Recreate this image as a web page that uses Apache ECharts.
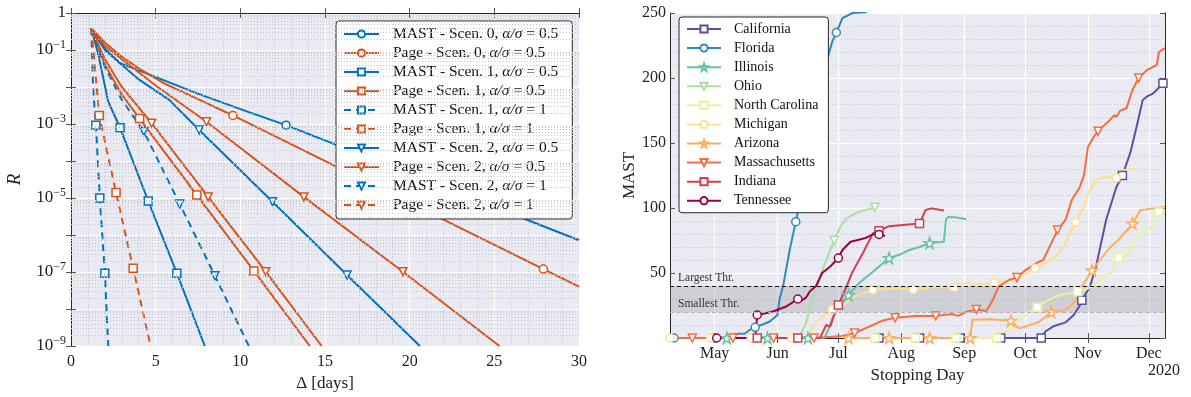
<!DOCTYPE html>
<html>
<head>
<meta charset="utf-8">
<script src="https://cdn.jsdelivr.net/npm/echarts@6/dist/echarts.min.js"></script>
<style>
html, body { margin: 0; padding: 0; background: #fff; }
#chart { width: 1191px; height: 397px; }
</style>
</head>
<body>
<div id="chart"></div>
<script>
// ---------- left panel : R versus Delta (log scale) ----------
var leftNames = [
    'MAST - Scen. 0, α/σ = 0.5', 'Page - Scen. 0, α/σ = 0.5',
    'MAST - Scen. 1, α/σ = 0.5', 'Page - Scen. 1, α/σ = 0.5',
    'MAST - Scen. 1, α/σ = 1', 'Page - Scen. 1, α/σ = 1',
    'MAST - Scen. 2, α/σ = 0.5', 'Page - Scen. 2, α/σ = 0.5',
    'MAST - Scen. 2, α/σ = 1', 'Page - Scen. 2, α/σ = 1'
];
var mast0 = [[1.2, 0.38], [2, 0.11], [2.9, 0.044], [4.6, 0.022], [7.6, 0.0063], [10.5, 0.0021], [30, 7.2e-7]];
var mast0Marks = [[12.7, 9.3e-4]];
var page0 = [[1.2, 0.38], [2, 0.16], [2.9, 0.071], [4, 0.032], [5.5, 0.0126], [7.6, 0.0045], [30, 4.0e-8]];
var page0Marks = [[9.56, 1.7e-3], [27.9, 1.2e-7]];
var mast1a = [[1.2, 0.38], [1.6, 0.08], [2.2, 0.004], [7.9, 1e-9]];
var mast1aMarks = [[2.9, 7.9e-4], [4.56, 8.3e-6], [6.25, 9.3e-8]];
var page1a = [[1.2, 0.38], [2, 0.04], [3, 0.0063], [14.1, 1e-9]];
var page1aMarks = [[4.05, 1.4e-3], [7.43, 1.2e-5], [10.8, 1.07e-7]];
var mast1b = [[1.2, 0.38], [1.3, 0.01], [2.2, 1e-9]];
var mast1bMarks = [[1.47, 9.3e-4], [1.7, 1e-5], [2.0, 9.3e-8]];
var page1b = [[1.2, 0.38], [4.7, 1e-9]];
var page1bMarks = [[1.67, 1.7e-3], [2.66, 1.4e-5], [3.67, 1.26e-7]];
var mast2a = [[1.2, 0.38], [2, 0.1], [3, 0.04], [4, 0.016], [5.8, 0.0045], [20.6, 1e-9]];
var mast2aMarks = [[7.57, 6.9e-4], [11.9, 7.9e-6], [16.3, 8.3e-8]];
var page2a = [[1.2, 0.38], [2, 0.13], [3, 0.056], [5, 0.011], [25.3, 1e-9]];
var page2aMarks = [[8.0, 1.15e-3], [13.75, 1.07e-5], [19.6, 1.02e-7]];
var mast2b = [[1.2, 0.38], [2, 0.035], [3, 0.0045], [10.5, 1e-9]];
var mast2bMarks = [[4.3, 6.3e-4], [6.42, 6.9e-6], [8.5, 7.9e-8]];
var page2b = [[1.2, 0.38], [2, 0.056], [3, 0.01], [14.8, 1e-9]];
var page2bMarks = [[4.76, 1.05e-3], [8.1, 1.07e-5], [11.5, 1.02e-7]];

// ---------- right panel : MAST versus stopping day ----------
var stateNames = ['California', 'Florida', 'Illinois', 'Ohio', 'North Carolina',
    'Michigan', 'Arizona', 'Massachusetts', 'Indiana', 'Tennessee'];
var caPts = [['2020-10-11', 5], ['2020-10-15', 9], ['2020-10-21', 12], ['2020-10-25', 17.7], ['2020-10-28', 25],
    ['2020-11-02', 39.5], ['2020-11-05', 55], ['2020-11-10', 91], ['2020-11-13', 106], ['2020-11-15', 116],
    ['2020-11-22', 143], ['2020-11-25', 162.5], ['2020-11-28', 183], ['2020-11-30', 185.6], ['2020-12-03', 188], ['2020-12-05', 191]];
var caMarks = [['2020-07-21', 0], ['2020-08-10', 0], ['2020-08-30', 0], ['2020-09-19', 0], ['2020-10-09', 0],
    ['2020-10-29', 29], ['2020-11-18', 125], ['2020-12-08', 196]];
var flPts = [['2020-05-09', 0], ['2020-05-10', 3], ['2020-05-16', 3.5], ['2020-05-18', 6], ['2020-05-28', 12.5],
    ['2020-06-01', 17.7], ['2020-06-02', 30], ['2020-06-03', 35.6], ['2020-06-04', 42], ['2020-06-07', 67.7],
    ['2020-06-12', 104], ['2020-06-15', 130], ['2020-06-18', 157], ['2020-06-23', 200], ['2020-06-28', 228],
    ['2020-07-03', 246], ['2020-07-08', 250], ['2020-07-15', 250.5]];
var flMarks = [['2020-04-11', 0], ['2020-05-01', 0], ['2020-05-21', 8.2], ['2020-06-10', 89.5], ['2020-06-30', 235]];
var ilPts = [['2020-06-24', 0], ['2020-06-26', 6], ['2020-06-28', 15], ['2020-07-02', 26.7], ['2020-07-11', 42],
    ['2020-07-18', 51], ['2020-07-31', 64], ['2020-08-05', 67.7], ['2020-08-10', 70], ['2020-08-22', 74],
    ['2020-08-23', 91], ['2020-08-24', 93], ['2020-08-28', 92.8], ['2020-09-02', 91.3]];
var ilMarks = [['2020-05-07', 0], ['2020-05-27', 0], ['2020-06-16', 0], ['2020-07-06', 33], ['2020-07-26', 61.5], ['2020-08-15', 73]];
var ohPts = [['2020-06-05', 0], ['2020-06-10', 0], ['2020-06-12', 2], ['2020-06-15', 11], ['2020-06-18', 29],
    ['2020-06-22', 47], ['2020-06-25', 60], ['2020-07-02', 85.6], ['2020-07-05', 92], ['2020-07-11', 97]];
var ohMarks = [['2020-06-29', 75], ['2020-07-19', 100.5]];
var ncPts = [['2020-09-21', 3.6], ['2020-09-28', 14], ['2020-10-12', 29], ['2020-10-18', 33], ['2020-11-01', 38],
    ['2020-11-07', 44.6], ['2020-11-13', 51], ['2020-11-18', 61], ['2020-11-21', 65], ['2020-11-23', 73],
    ['2020-11-28', 82], ['2020-12-03', 85.6], ['2020-12-09', 99]];
var ncMarks = [['2020-07-19', 0], ['2020-08-08', 0], ['2020-08-28', 0], ['2020-09-17', 0], ['2020-10-07', 23.6],
    ['2020-10-27', 35.6], ['2020-11-16', 62], ['2020-12-06', 97]];
var miPts = [['2020-06-15', 0], ['2020-06-20', 12.5], ['2020-07-02', 23], ['2020-07-06', 29], ['2020-07-11', 33],
    ['2020-07-28', 38], ['2020-08-16', 39], ['2020-08-29', 42], ['2020-09-05', 42], ['2020-09-10', 41.3],
    ['2020-09-21', 44], ['2020-09-28', 45], ['2020-09-30', 48.5], ['2020-10-15', 61], ['2020-10-20', 70],
    ['2020-10-23', 80.5], ['2020-10-30', 101], ['2020-11-01', 111], ['2020-11-05', 121.5], ['2020-11-10', 124],
    ['2020-11-17', 129], ['2020-11-26', 130]];
var miMarks = [['2020-04-09', 0], ['2020-04-29', 0], ['2020-05-19', 0], ['2020-06-08', 0], ['2020-06-28', 22],
    ['2020-07-18', 37], ['2020-08-07', 37.4], ['2020-08-27', 39], ['2020-09-16', 42.5], ['2020-10-06', 53.6],
    ['2020-10-26', 89], ['2020-11-15', 123]];
var azPts = [['2020-09-05', 14], ['2020-09-14', 14.4], ['2020-09-28', 7.4], ['2020-10-01', 8.7], ['2020-10-08', 12.5],
    ['2020-10-21', 21.5], ['2020-10-26', 29], ['2020-10-29', 39.5], ['2020-11-07', 60], ['2020-11-12', 70],
    ['2020-11-16', 75.4], ['2020-11-21', 84.4], ['2020-11-27', 98.5], ['2020-11-30', 99], ['2020-12-09', 101]];
var azMarks = [['2020-07-06', 0], ['2020-07-26', 0], ['2020-08-15', 0], ['2020-09-04', 0], ['2020-09-24', 13.3],
    ['2020-10-14', 20], ['2020-11-03', 52], ['2020-11-23', 88]];
var maPts = [['2020-04-09', 0], ['2020-06-25', 0.5], ['2020-07-03', 1.5], ['2020-07-18', 10], ['2020-07-23', 13.5],
    ['2020-08-08', 17], ['2020-08-26', 18.5], ['2020-08-29', 17], ['2020-09-02', 20], ['2020-09-12', 20.8],
    ['2020-09-15', 29], ['2020-09-18', 39.5], ['2020-09-23', 44.6], ['2020-10-01', 52], ['2020-10-07', 58],
    ['2020-10-10', 60], ['2020-10-21', 91], ['2020-10-24', 106], ['2020-10-28', 116], ['2020-10-30', 125],
    ['2020-11-01', 147], ['2020-11-04', 155], ['2020-11-12', 168], ['2020-11-14', 171.5], ['2020-11-15', 170],
    ['2020-11-17', 175], ['2020-11-20', 176.7], ['2020-11-23', 191], ['2020-11-30', 206], ['2020-12-05', 210],
    ['2020-12-06', 220], ['2020-12-09', 223]];
var maMarks = [['2020-04-20', 0], ['2020-05-10', 0], ['2020-05-30', 0], ['2020-06-19', 0], ['2020-07-09', 3.8],
    ['2020-07-29', 15.5], ['2020-08-18', 17], ['2020-09-07', 22], ['2020-09-27', 46.5], ['2020-10-17', 83],
    ['2020-11-06', 159], ['2020-11-26', 200]];
var inPts = [['2020-06-22', 0], ['2020-06-23', 3.6], ['2020-06-25', 10], ['2020-06-27', 8.7], ['2020-06-30', 22.8],
    ['2020-07-05', 39.5], ['2020-07-08', 51], ['2020-07-13', 65], ['2020-07-18', 80.5], ['2020-07-26', 86],
    ['2020-08-13', 98.5], ['2020-08-16', 99.7], ['2020-08-22', 98]];
var inMarks = [['2020-05-22', 0], ['2020-06-11', 0], ['2020-07-01', 25.4], ['2020-07-21', 82.5], ['2020-08-10', 88]];
var tnPts = [['2020-05-21', 0], ['2020-05-29', 20], ['2020-06-05', 24], ['2020-06-12', 28], ['2020-06-15', 31],
    ['2020-06-17', 36], ['2020-06-20', 40], ['2020-06-23', 50], ['2020-06-27', 55], ['2020-07-03', 67.7],
    ['2020-07-07', 74], ['2020-07-14', 76.7], ['2020-07-19', 80.5], ['2020-07-24', 78.5]];
var tnMarks = [['2020-05-02', 0], ['2020-05-22', 17.7], ['2020-06-11', 30], ['2020-07-01', 61.5], ['2020-07-21', 79.7]];

var thrLargest = 40;
var thrSmallest = 20;
var dayFirst = '2020-04-09', dayLast = '2020-12-09';
var monthTicks = ['2020-05-01', '2020-06-01', '2020-07-01', '2020-08-01', '2020-09-01', '2020-10-01', '2020-11-01', '2020-12-01'];
var monthLabels = ['May', 'Jun', 'Jul', 'Aug', 'Sep', 'Oct', 'Nov', 'Dec'];

// ---------- helpers ----------
var FONT = 'Liberation Serif';
var BLUE = '#0072BD', ORANGE = '#D95319';
var STAR = 'path://M50,0 L61.8,35.3 98.9,35.3 68.9,57.1 80.2,92.6 50,70.8 19.8,92.6 31.1,57.1 1.1,35.3 38.2,35.3Z';
var DASH = [7, 5];

// dates go on a plain value axis as timestamps
function xNum(v) { return typeof v === 'string' ? new Date(v + 'T00:00:00').getTime() : v; }

// line points without marker + marker points, sorted along x
function merge(pts, marks) {
    var out = [];
    pts.forEach(function (p) { out.push({ value: [xNum(p[0]), p[1]], symbol: 'none' }); });
    marks.forEach(function (p) { out.push({ value: [xNum(p[0]), p[1]] }); });
    out.sort(function (a, b) { return a.value[0] - b.value[0]; });
    return out;
}

var leftData = [[mast0, mast0Marks], [page0, page0Marks], [mast1a, mast1aMarks], [page1a, page1aMarks],
    [mast1b, mast1bMarks], [page1b, page1bMarks], [mast2a, mast2aMarks], [page2a, page2aMarks],
    [mast2b, mast2bMarks], [page2b, page2bMarks]];
var leftColor = [BLUE, ORANGE, BLUE, ORANGE, BLUE, ORANGE, BLUE, ORANGE, BLUE, ORANGE];
var leftSym = ['circle', 'circle', 'rect', 'rect', 'rect', 'rect', 'triangle', 'triangle', 'triangle', 'triangle'];
var leftDash = [0, 0, 0, 0, 1, 1, 0, 0, 1, 0];      // line in the plot
var legendDash = [0, 0, 0, 0, 1, 1, 0, 0, 1, 1];    // line in the legend

var rightData = [[caPts, caMarks], [flPts, flMarks], [ilPts, ilMarks], [ohPts, ohMarks], [ncPts, ncMarks],
    [miPts, miMarks], [azPts, azMarks], [maPts, maMarks], [inPts, inMarks], [tnPts, tnMarks]];
var rightColor = ['#5e4fa2', '#3288bd', '#66c2a5', '#abdda4', '#e6f598', '#fee08b', '#fdae61', '#f46d43', '#d53e4f', '#9e0142'];
var rightSym = ['rect', 'circle', STAR, 'triangle', 'rect', 'circle', STAR, 'triangle', 'rect', 'circle'];

var series = [];

// minor log grid lines (2..9 x 10^k), drawn on a hidden log10 value axis of the left grid
var minorLog = [];
for (var k = 1; k <= 9; k++) {
    for (var m = 2; m <= 9; m++) minorLog.push(Math.log(m) / Math.LN10 - k);
}
series.push({
    type: 'line', xAxisIndex: 0, yAxisIndex: 4, data: [[0, 0]], symbol: 'none', silent: true, z: 1,
    lineStyle: { width: 0 },
    markLine: {
        silent: true, symbol: 'none', animation: false, label: { show: false },
        lineStyle: { color: '#c6c6ce', type: [1, 2], width: 1 },
        data: minorLog.map(function (v) { return { yAxis: v }; })
    }
});

leftData.forEach(function (d, i) {
    series.push({
        name: leftNames[i], type: 'line', xAxisIndex: 0, yAxisIndex: 0,
        data: merge(d[0], d[1]),
        symbol: leftSym[i], symbolSize: 8, symbolRotate: leftSym[i] === 'triangle' ? 180 : 0,
        itemStyle: { color: '#fff', borderColor: leftColor[i], borderWidth: 1.5 },
        lineStyle: { color: leftColor[i], width: 2, type: leftDash[i] ? DASH : 'solid' },
        z: 3
    });
});

// threshold band on the right panel
series.push({
    type: 'line', xAxisIndex: 2, yAxisIndex: 2, data: [[xNum(dayFirst), 0]], symbol: 'none', silent: true, z: 1,
    lineStyle: { width: 0 },
    markArea: {
        silent: true, itemStyle: { color: 'rgba(136,136,142,0.27)' },
        data: [[{ yAxis: thrSmallest }, { yAxis: thrLargest }]]
    },
    markLine: {
        silent: true, symbol: 'none', animation: false,
        label: { show: true, position: 'insideStartTop', color: '#333', fontFamily: FONT, fontSize: 11.5, distance: [8, 2] },
        data: [
            { yAxis: thrLargest, lineStyle: { color: '#111', type: [4, 3], width: 1 }, label: { formatter: 'Largest Thr.' } },
            { yAxis: thrSmallest, lineStyle: { color: '#b4b4ba', type: [4, 3], width: 1 }, label: { formatter: 'Smallest Thr.' } }
        ]
    }
});

rightData.forEach(function (d, i) {
    series.push({
        name: stateNames[i], type: 'line', xAxisIndex: 2, yAxisIndex: 2,
        data: merge(d[0], d[1]),
        symbol: rightSym[i], symbolSize: rightSym[i] === STAR ? 11 : 8,
        symbolRotate: rightSym[i] === 'triangle' ? 180 : 0,
        itemStyle: { color: '#fff', borderColor: rightColor[i], borderWidth: 1.5 },
        lineStyle: { color: rightColor[i], width: 2 },
        z: 3
    });
});

var frame = { show: true, lineStyle: { color: '#262626', width: 1 } };
var labelFont = { fontFamily: FONT, fontSize: 16, color: '#222' };
var monthValues = monthTicks.map(xNum);

var option = {
    animation: false,
    textStyle: { fontFamily: FONT },
    grid: [
        { left: 71, top: 13, width: 508, height: 333, show: true, backgroundColor: '#EAEAF2', borderWidth: 0 },
        { left: 670, top: 13, width: 495, height: 325, show: true, backgroundColor: '#EAEAF2', borderWidth: 0 }
    ],
    legend: [{
        data: leftNames.map(function (n, i) {
            return legendDash[i] ? { name: n, lineStyle: { type: DASH } } : { name: n };
        }),
        orient: 'vertical', left: 336, top: 21,
        backgroundColor: '#fff', borderColor: '#262626', borderWidth: 1, borderRadius: 3,
        padding: [5, 14, 6, 7], itemWidth: 35, itemHeight: 9, itemGap: 3,
        textStyle: { fontFamily: FONT, fontSize: 15.5, lineHeight: 14, color: '#111', padding: [0, 0, 0, 9],
            rich: { i: { fontFamily: FONT, fontStyle: 'italic', fontSize: 15.5, lineHeight: 14, color: '#111' } } },
        formatter: function (n) { return n.replace('α/σ', '{i|α/σ}'); }
    }, {
        data: stateNames, orient: 'vertical', left: 679, top: 17,
        backgroundColor: '#fff', borderColor: '#262626', borderWidth: 1, borderRadius: 3,
        padding: [5, 10, 5, 7], itemWidth: 34, itemHeight: 9, itemGap: 5.08,
        textStyle: { fontFamily: FONT, fontSize: 14, lineHeight: 14, color: '#111', padding: [0, 0, 0, 8] }
    }],
    xAxis: [{
        gridIndex: 0, type: 'value', min: 0, max: 30, interval: 5,
        name: 'Δ [days]', nameLocation: 'middle', nameGap: 27,
        nameTextStyle: { fontFamily: FONT, fontSize: 17, color: '#222' },
        axisLine: frame, axisTick: { inside: true, length: 5, lineStyle: { color: '#555' } },
        axisLabel: Object.assign({ margin: 8 }, labelFont),
        splitLine: { show: true, lineStyle: { color: '#fff', width: 1.2 } },
        minorTick: { show: false, splitNumber: 5 },
        minorSplitLine: { show: true, lineStyle: { color: '#c6c6ce', type: [1, 2], width: 1 } }
    }, {
        gridIndex: 0, type: 'value', min: 0, max: 30, interval: 5, position: 'top',
        axisLine: frame, axisTick: { inside: true, length: 5, lineStyle: { color: '#555' } },
        axisLabel: { show: false }, splitLine: { show: false }
    }, {
        gridIndex: 1, type: 'value', min: xNum(dayFirst), max: xNum(dayLast),
        name: 'Stopping Day', nameLocation: 'middle', nameGap: 29,
        nameTextStyle: { fontFamily: FONT, fontSize: 17, color: '#222' },
        axisLine: frame,
        axisTick: { inside: true, length: 5, customValues: monthValues, lineStyle: { color: '#555' } },
        axisLabel: Object.assign({ margin: 8, customValues: monthValues,
            formatter: function (v) { return monthLabels[new Date(v).getMonth() - 4]; } }, labelFont),
        splitLine: { show: true, lineStyle: { color: '#fff', width: 1.2 } }
    }, {
        gridIndex: 1, type: 'value', min: xNum(dayFirst), max: xNum(dayLast), position: 'top',
        axisLine: frame,
        axisTick: { inside: true, length: 5, customValues: monthValues, lineStyle: { color: '#555' } },
        axisLabel: { show: false, customValues: monthValues }, splitLine: { show: false }
    }],
    yAxis: [{
        gridIndex: 0, type: 'log', logBase: 10, min: 1e-9, max: 1, splitNumber: 9,
        name: 'R', nameLocation: 'middle', nameGap: 47,
        nameTextStyle: { fontFamily: FONT, fontSize: 19, fontStyle: 'italic', color: '#222' },
        axisLine: frame, axisTick: { inside: true, length: 5, lineStyle: { color: '#555' } },
        axisLabel: {
            margin: 5, fontFamily: FONT, fontSize: 17, color: '#222',
            formatter: function (v) {
                var e = Math.round(Math.log(v) / Math.LN10);
                if (e === 0) return '{b|1}';
                if (e % 2 !== 0) return '{b|10}{s|−' + (-e) + '}';
                return '';
            },
            rich: {
                b: { fontFamily: FONT, fontSize: 17, color: '#222' },
                s: { fontFamily: FONT, fontSize: 12, color: '#222', padding: [0, 0, 10, 0] }
            }
        },
        splitLine: { show: true, lineStyle: { color: '#fff', width: 1.2 } }
    }, {
        gridIndex: 0, type: 'log', logBase: 10, min: 1e-9, max: 1, splitNumber: 9, position: 'right',
        axisLine: frame, axisTick: { inside: true, length: 5, lineStyle: { color: '#555' } },
        axisLabel: { show: false }, splitLine: { show: false }
    }, {
        gridIndex: 1, type: 'value', min: 0, max: 250, interval: 50,
        name: 'MAST', nameLocation: 'middle', nameGap: 32,
        nameTextStyle: { fontFamily: FONT, fontSize: 17, color: '#222' },
        axisLine: frame, axisTick: { inside: true, length: 5, lineStyle: { color: '#555' } },
        axisLabel: Object.assign({ margin: 4, formatter: function (v) { return v === 0 ? '' : v; } }, labelFont),
        splitLine: { show: true, lineStyle: { color: '#fff', width: 1.2 } },
        minorTick: { show: false, splitNumber: 5 },
        minorSplitLine: { show: true, lineStyle: { color: '#c6c6ce', type: [1, 2], width: 1 } }
    }, {
        gridIndex: 1, type: 'value', min: 0, max: 250, interval: 50, position: 'right',
        axisLine: frame, axisTick: { inside: true, length: 5, lineStyle: { color: '#555' } },
        axisLabel: { show: false }, splitLine: { show: false }
    }, {
        // hidden log10 helper axis for the minor grid of the left panel
        gridIndex: 0, type: 'value', min: -9, max: 0, show: false
    }],
    graphic: [{
        type: 'text', left: 1148, top: 363,
        style: { text: '2020', fontFamily: FONT, fontSize: 16, fill: '#222' }
    }],
    series: series
};

var chart = echarts.init(document.getElementById('chart'));
chart.setOption(option);
</script>
</body>
</html>
